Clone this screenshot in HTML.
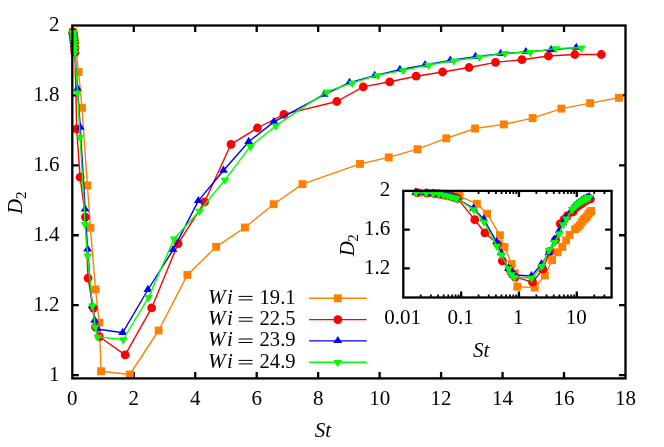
<!DOCTYPE html>
<html><head><meta charset="utf-8"><title>D2 vs St</title>
<style>
html,body{margin:0;padding:0;background:#fff;}
body{width:664px;height:447px;position:relative;overflow:hidden;font-family:"Liberation Serif",serif;}
.tx, .tx text, .tx tspan{font-family:"Liberation Serif",serif;}
</style></head><body>
<svg width="664" height="447" viewBox="0 0 664 447" style="position:absolute;left:0;top:0">
<rect width="664" height="447" fill="#fff"/>
<g><path d="M133.77 378.4v-6.5M133.77 25.5v6.5" stroke="#000" stroke-width="2.3"/><path d="M195.23 378.4v-6.5M195.23 25.5v6.5" stroke="#000" stroke-width="2.3"/><path d="M256.70 378.4v-6.5M256.70 25.5v6.5" stroke="#000" stroke-width="2.3"/><path d="M318.17 378.4v-6.5M318.17 25.5v6.5" stroke="#000" stroke-width="2.3"/><path d="M379.63 378.4v-6.5M379.63 25.5v6.5" stroke="#000" stroke-width="2.3"/><path d="M441.10 378.4v-6.5M441.10 25.5v6.5" stroke="#000" stroke-width="2.3"/><path d="M502.57 378.4v-6.5M502.57 25.5v6.5" stroke="#000" stroke-width="2.3"/><path d="M564.03 378.4v-6.5M564.03 25.5v6.5" stroke="#000" stroke-width="2.3"/><path d="M72.3 375.10h6.5M625.5 375.10h-6.5" stroke="#000" stroke-width="2.3"/><path d="M72.3 305.18h6.5M625.5 305.18h-6.5" stroke="#000" stroke-width="2.3"/><path d="M72.3 235.26h6.5M625.5 235.26h-6.5" stroke="#000" stroke-width="2.3"/><path d="M72.3 165.34h6.5M625.5 165.34h-6.5" stroke="#000" stroke-width="2.3"/><path d="M72.3 95.42h6.5M625.5 95.42h-6.5" stroke="#000" stroke-width="2.3"/><path d="M420.71 297.5v-3M420.71 190.9v3" stroke="#000" stroke-width="1.8"/><path d="M430.89 297.5v-3M430.89 190.9v3" stroke="#000" stroke-width="1.8"/><path d="M438.12 297.5v-3M438.12 190.9v3" stroke="#000" stroke-width="1.8"/><path d="M443.72 297.5v-3M443.72 190.9v3" stroke="#000" stroke-width="1.8"/><path d="M448.30 297.5v-3M448.30 190.9v3" stroke="#000" stroke-width="1.8"/><path d="M452.17 297.5v-3M452.17 190.9v3" stroke="#000" stroke-width="1.8"/><path d="M455.52 297.5v-3M455.52 190.9v3" stroke="#000" stroke-width="1.8"/><path d="M458.48 297.5v-3M458.48 190.9v3" stroke="#000" stroke-width="1.8"/><path d="M461.13 297.5v-6M461.13 190.9v6" stroke="#000" stroke-width="2.3"/><path d="M478.54 297.5v-3M478.54 190.9v3" stroke="#000" stroke-width="1.8"/><path d="M488.72 297.5v-3M488.72 190.9v3" stroke="#000" stroke-width="1.8"/><path d="M495.94 297.5v-3M495.94 190.9v3" stroke="#000" stroke-width="1.8"/><path d="M501.55 297.5v-3M501.55 190.9v3" stroke="#000" stroke-width="1.8"/><path d="M506.13 297.5v-3M506.13 190.9v3" stroke="#000" stroke-width="1.8"/><path d="M510.00 297.5v-3M510.00 190.9v3" stroke="#000" stroke-width="1.8"/><path d="M513.35 297.5v-3M513.35 190.9v3" stroke="#000" stroke-width="1.8"/><path d="M516.31 297.5v-3M516.31 190.9v3" stroke="#000" stroke-width="1.8"/><path d="M518.96 297.5v-6M518.96 190.9v6" stroke="#000" stroke-width="2.3"/><path d="M536.36 297.5v-3M536.36 190.9v3" stroke="#000" stroke-width="1.8"/><path d="M546.55 297.5v-3M546.55 190.9v3" stroke="#000" stroke-width="1.8"/><path d="M553.77 297.5v-3M553.77 190.9v3" stroke="#000" stroke-width="1.8"/><path d="M559.38 297.5v-3M559.38 190.9v3" stroke="#000" stroke-width="1.8"/><path d="M563.95 297.5v-3M563.95 190.9v3" stroke="#000" stroke-width="1.8"/><path d="M567.83 297.5v-3M567.83 190.9v3" stroke="#000" stroke-width="1.8"/><path d="M571.18 297.5v-3M571.18 190.9v3" stroke="#000" stroke-width="1.8"/><path d="M574.14 297.5v-3M574.14 190.9v3" stroke="#000" stroke-width="1.8"/><path d="M576.78 297.5v-6M576.78 190.9v6" stroke="#000" stroke-width="2.3"/><path d="M594.19 297.5v-3M594.19 190.9v3" stroke="#000" stroke-width="1.8"/><path d="M604.38 297.5v-3M604.38 190.9v3" stroke="#000" stroke-width="1.8"/><path d="M403.3 268.42h6.5M611.6 268.42h-6.5" stroke="#000" stroke-width="2.3"/><path d="M403.3 229.66h6.5M611.6 229.66h-6.5" stroke="#000" stroke-width="2.3"/></g>
<g><path d="M72.88 31.79L73.16 32.84L73.45 33.89L73.74 35.29L74.03 37.04L74.31 38.78L74.60 40.53L74.89 42.28L75.18 44.03L78.60 72.00L82.00 107.75L87.40 185.40L90.40 227.75L95.50 289.50L99.30 322.60L101.10 371.20L129.84 374.50L158.61 330.50L187.38 274.90L216.15 246.80L244.92 227.50L273.69 204.20L302.46 184.10L360.00 163.90L388.77 157.40L417.54 149.20L446.31 138.30L475.08 128.50L503.85 124.40L532.62 118.10L561.39 108.60L590.16 103.10L618.93 97.80" fill="none" stroke="#ff8000" stroke-width="1.4" stroke-linejoin="round"/><rect x="68.93" y="27.84" width="7.90" height="7.90" fill="#ff8000"/><rect x="69.21" y="28.89" width="7.90" height="7.90" fill="#ff8000"/><rect x="69.50" y="29.94" width="7.90" height="7.90" fill="#ff8000"/><rect x="69.79" y="31.34" width="7.90" height="7.90" fill="#ff8000"/><rect x="70.08" y="33.09" width="7.90" height="7.90" fill="#ff8000"/><rect x="70.36" y="34.83" width="7.90" height="7.90" fill="#ff8000"/><rect x="70.65" y="36.58" width="7.90" height="7.90" fill="#ff8000"/><rect x="70.94" y="38.33" width="7.90" height="7.90" fill="#ff8000"/><rect x="71.23" y="40.08" width="7.90" height="7.90" fill="#ff8000"/><rect x="74.65" y="68.05" width="7.90" height="7.90" fill="#ff8000"/><rect x="78.05" y="103.80" width="7.90" height="7.90" fill="#ff8000"/><rect x="83.45" y="181.45" width="7.90" height="7.90" fill="#ff8000"/><rect x="86.45" y="223.80" width="7.90" height="7.90" fill="#ff8000"/><rect x="91.55" y="285.55" width="7.90" height="7.90" fill="#ff8000"/><rect x="95.35" y="318.65" width="7.90" height="7.90" fill="#ff8000"/><rect x="97.15" y="367.25" width="7.90" height="7.90" fill="#ff8000"/><rect x="125.89" y="370.55" width="7.90" height="7.90" fill="#ff8000"/><rect x="154.66" y="326.55" width="7.90" height="7.90" fill="#ff8000"/><rect x="183.43" y="270.95" width="7.90" height="7.90" fill="#ff8000"/><rect x="212.20" y="242.85" width="7.90" height="7.90" fill="#ff8000"/><rect x="240.97" y="223.55" width="7.90" height="7.90" fill="#ff8000"/><rect x="269.74" y="200.25" width="7.90" height="7.90" fill="#ff8000"/><rect x="298.51" y="180.15" width="7.90" height="7.90" fill="#ff8000"/><rect x="356.05" y="159.95" width="7.90" height="7.90" fill="#ff8000"/><rect x="384.82" y="153.45" width="7.90" height="7.90" fill="#ff8000"/><rect x="413.59" y="145.25" width="7.90" height="7.90" fill="#ff8000"/><rect x="442.36" y="134.35" width="7.90" height="7.90" fill="#ff8000"/><rect x="471.13" y="124.55" width="7.90" height="7.90" fill="#ff8000"/><rect x="499.90" y="120.45" width="7.90" height="7.90" fill="#ff8000"/><rect x="528.67" y="114.15" width="7.90" height="7.90" fill="#ff8000"/><rect x="557.44" y="104.65" width="7.90" height="7.90" fill="#ff8000"/><rect x="586.21" y="99.15" width="7.90" height="7.90" fill="#ff8000"/><rect x="614.98" y="93.85" width="7.90" height="7.90" fill="#ff8000"/><path d="M72.83 32.14L73.09 33.54L73.36 35.29L73.62 37.74L73.89 40.53L74.15 43.33L74.42 46.48L74.68 49.62L74.94 52.42L76.70 129.00L80.10 177.25L85.40 217.10L88.00 278.10L93.40 308.10L95.50 327.00L99.40 336.70L125.20 354.90L151.65 307.90L178.10 243.60L204.55 202.00L231.00 144.30L257.45 128.00L283.90 114.40L336.80 101.50L363.25 86.90L389.70 81.80L416.15 76.20L442.60 72.00L469.05 67.50L495.50 62.40L521.95 59.70L548.40 56.00L574.85 54.50L601.30 54.50" fill="none" stroke="#ff0000" stroke-width="1.4" stroke-linejoin="round"/><circle cx="72.83" cy="32.14" r="4.4" fill="#ff0000"/><circle cx="73.09" cy="33.54" r="4.4" fill="#ff0000"/><circle cx="73.36" cy="35.29" r="4.4" fill="#ff0000"/><circle cx="73.62" cy="37.74" r="4.4" fill="#ff0000"/><circle cx="73.89" cy="40.53" r="4.4" fill="#ff0000"/><circle cx="74.15" cy="43.33" r="4.4" fill="#ff0000"/><circle cx="74.42" cy="46.48" r="4.4" fill="#ff0000"/><circle cx="74.68" cy="49.62" r="4.4" fill="#ff0000"/><circle cx="74.94" cy="52.42" r="4.4" fill="#ff0000"/><circle cx="76.70" cy="129.00" r="4.4" fill="#ff0000"/><circle cx="80.10" cy="177.25" r="4.4" fill="#ff0000"/><circle cx="85.40" cy="217.10" r="4.4" fill="#ff0000"/><circle cx="88.00" cy="278.10" r="4.4" fill="#ff0000"/><circle cx="93.40" cy="308.10" r="4.4" fill="#ff0000"/><circle cx="95.50" cy="327.00" r="4.4" fill="#ff0000"/><circle cx="99.40" cy="336.70" r="4.4" fill="#ff0000"/><circle cx="125.20" cy="354.90" r="4.4" fill="#ff0000"/><circle cx="151.65" cy="307.90" r="4.4" fill="#ff0000"/><circle cx="178.10" cy="243.60" r="4.4" fill="#ff0000"/><circle cx="204.55" cy="202.00" r="4.4" fill="#ff0000"/><circle cx="231.00" cy="144.30" r="4.4" fill="#ff0000"/><circle cx="257.45" cy="128.00" r="4.4" fill="#ff0000"/><circle cx="283.90" cy="114.40" r="4.4" fill="#ff0000"/><circle cx="336.80" cy="101.50" r="4.4" fill="#ff0000"/><circle cx="363.25" cy="86.90" r="4.4" fill="#ff0000"/><circle cx="389.70" cy="81.80" r="4.4" fill="#ff0000"/><circle cx="416.15" cy="76.20" r="4.4" fill="#ff0000"/><circle cx="442.60" cy="72.00" r="4.4" fill="#ff0000"/><circle cx="469.05" cy="67.50" r="4.4" fill="#ff0000"/><circle cx="495.50" cy="62.40" r="4.4" fill="#ff0000"/><circle cx="521.95" cy="59.70" r="4.4" fill="#ff0000"/><circle cx="548.40" cy="56.00" r="4.4" fill="#ff0000"/><circle cx="574.85" cy="54.50" r="4.4" fill="#ff0000"/><circle cx="601.30" cy="54.50" r="4.4" fill="#ff0000"/><path d="M72.80 31.44L73.06 32.84L73.31 34.59L73.56 36.69L73.81 39.48L74.06 42.28L74.32 45.43L74.57 48.57L74.82 51.72L77.60 88.80L80.30 127.50L85.10 209.40L87.60 249.40L92.00 306.00L94.70 320.50L97.20 329.00L122.70 332.70L147.90 289.75L173.10 249.85L198.30 200.85L223.50 170.55L248.70 141.70L273.90 121.90L324.30 94.60L349.50 82.60L374.70 75.65L399.90 69.80L425.10 65.00L450.30 60.40L475.50 56.70L500.70 53.70L525.90 51.90L551.10 49.90L576.30 47.60" fill="none" stroke="#0000ff" stroke-width="1.4" stroke-linejoin="round"/><path d="M72.80 26.52L68.40 33.64L77.20 33.64Z" fill="#0000ff"/><path d="M73.06 27.91L68.66 35.04L77.46 35.04Z" fill="#0000ff"/><path d="M73.31 29.66L68.91 36.79L77.71 36.79Z" fill="#0000ff"/><path d="M73.56 31.76L69.16 38.89L77.96 38.89Z" fill="#0000ff"/><path d="M73.81 34.56L69.41 41.68L78.21 41.68Z" fill="#0000ff"/><path d="M74.06 37.35L69.66 44.48L78.46 44.48Z" fill="#0000ff"/><path d="M74.32 40.50L69.92 47.63L78.72 47.63Z" fill="#0000ff"/><path d="M74.57 43.65L70.17 50.77L78.97 50.77Z" fill="#0000ff"/><path d="M74.82 46.79L70.42 53.92L79.22 53.92Z" fill="#0000ff"/><path d="M77.60 83.87L73.20 91.00L82.00 91.00Z" fill="#0000ff"/><path d="M80.30 122.57L75.90 129.70L84.70 129.70Z" fill="#0000ff"/><path d="M85.10 204.47L80.70 211.60L89.50 211.60Z" fill="#0000ff"/><path d="M87.60 244.47L83.20 251.60L92.00 251.60Z" fill="#0000ff"/><path d="M92.00 301.07L87.60 308.20L96.40 308.20Z" fill="#0000ff"/><path d="M94.70 315.57L90.30 322.70L99.10 322.70Z" fill="#0000ff"/><path d="M97.20 324.07L92.80 331.20L101.60 331.20Z" fill="#0000ff"/><path d="M122.70 327.77L118.30 334.90L127.10 334.90Z" fill="#0000ff"/><path d="M147.90 284.82L143.50 291.95L152.30 291.95Z" fill="#0000ff"/><path d="M173.10 244.92L168.70 252.05L177.50 252.05Z" fill="#0000ff"/><path d="M198.30 195.92L193.90 203.05L202.70 203.05Z" fill="#0000ff"/><path d="M223.50 165.62L219.10 172.75L227.90 172.75Z" fill="#0000ff"/><path d="M248.70 136.77L244.30 143.90L253.10 143.90Z" fill="#0000ff"/><path d="M273.90 116.97L269.50 124.10L278.30 124.10Z" fill="#0000ff"/><path d="M324.30 89.67L319.90 96.80L328.70 96.80Z" fill="#0000ff"/><path d="M349.50 77.67L345.10 84.80L353.90 84.80Z" fill="#0000ff"/><path d="M374.70 70.72L370.30 77.85L379.10 77.85Z" fill="#0000ff"/><path d="M399.90 64.87L395.50 72.00L404.30 72.00Z" fill="#0000ff"/><path d="M425.10 60.07L420.70 67.20L429.50 67.20Z" fill="#0000ff"/><path d="M450.30 55.47L445.90 62.60L454.70 62.60Z" fill="#0000ff"/><path d="M475.50 51.77L471.10 58.90L479.90 58.90Z" fill="#0000ff"/><path d="M500.70 48.77L496.30 55.90L505.10 55.90Z" fill="#0000ff"/><path d="M525.90 46.97L521.50 54.10L530.30 54.10Z" fill="#0000ff"/><path d="M551.10 44.97L546.70 52.10L555.50 52.10Z" fill="#0000ff"/><path d="M576.30 42.67L571.90 49.80L580.70 49.80Z" fill="#0000ff"/><path d="M72.81 32.14L73.06 33.19L73.32 34.94L73.57 37.39L73.83 40.18L74.08 42.98L74.34 46.13L74.59 49.27L74.84 52.59L77.60 92.60L80.10 137.10L85.10 224.30L87.60 255.70L92.50 305.70L95.20 326.90L97.80 336.90L123.20 339.50L148.65 297.10L174.10 238.70L199.55 211.00L225.00 179.90L250.45 146.20L275.90 125.70L326.80 91.70L352.25 83.00L377.70 75.20L403.15 70.40L428.60 65.00L454.05 60.80L479.50 57.00L504.95 53.20L530.40 52.30L555.85 48.40L581.30 47.70" fill="none" stroke="#00ff00" stroke-width="1.4" stroke-linejoin="round"/><path d="M72.81 37.07L68.41 29.94L77.21 29.94Z" fill="#00ff00"/><path d="M73.06 38.12L68.66 30.99L77.46 30.99Z" fill="#00ff00"/><path d="M73.32 39.87L68.92 32.74L77.72 32.74Z" fill="#00ff00"/><path d="M73.57 42.31L69.17 35.19L77.97 35.19Z" fill="#00ff00"/><path d="M73.83 45.11L69.43 37.98L78.23 37.98Z" fill="#00ff00"/><path d="M74.08 47.91L69.68 40.78L78.48 40.78Z" fill="#00ff00"/><path d="M74.34 51.05L69.94 43.93L78.74 43.93Z" fill="#00ff00"/><path d="M74.59 54.20L70.19 47.07L78.99 47.07Z" fill="#00ff00"/><path d="M74.84 57.52L70.44 50.39L79.25 50.39Z" fill="#00ff00"/><path d="M77.60 97.53L73.20 90.40L82.00 90.40Z" fill="#00ff00"/><path d="M80.10 142.03L75.70 134.90L84.50 134.90Z" fill="#00ff00"/><path d="M85.10 229.23L80.70 222.10L89.50 222.10Z" fill="#00ff00"/><path d="M87.60 260.63L83.20 253.50L92.00 253.50Z" fill="#00ff00"/><path d="M92.50 310.63L88.10 303.50L96.90 303.50Z" fill="#00ff00"/><path d="M95.20 331.83L90.80 324.70L99.60 324.70Z" fill="#00ff00"/><path d="M97.80 341.83L93.40 334.70L102.20 334.70Z" fill="#00ff00"/><path d="M123.20 344.43L118.80 337.30L127.60 337.30Z" fill="#00ff00"/><path d="M148.65 302.03L144.25 294.90L153.05 294.90Z" fill="#00ff00"/><path d="M174.10 243.63L169.70 236.50L178.50 236.50Z" fill="#00ff00"/><path d="M199.55 215.93L195.15 208.80L203.95 208.80Z" fill="#00ff00"/><path d="M225.00 184.83L220.60 177.70L229.40 177.70Z" fill="#00ff00"/><path d="M250.45 151.13L246.05 144.00L254.85 144.00Z" fill="#00ff00"/><path d="M275.90 130.63L271.50 123.50L280.30 123.50Z" fill="#00ff00"/><path d="M326.80 96.63L322.40 89.50L331.20 89.50Z" fill="#00ff00"/><path d="M352.25 87.93L347.85 80.80L356.65 80.80Z" fill="#00ff00"/><path d="M377.70 80.13L373.30 73.00L382.10 73.00Z" fill="#00ff00"/><path d="M403.15 75.33L398.75 68.20L407.55 68.20Z" fill="#00ff00"/><path d="M428.60 69.93L424.20 62.80L433.00 62.80Z" fill="#00ff00"/><path d="M454.05 65.73L449.65 58.60L458.45 58.60Z" fill="#00ff00"/><path d="M479.50 61.93L475.10 54.80L483.90 54.80Z" fill="#00ff00"/><path d="M504.95 58.13L500.55 51.00L509.35 51.00Z" fill="#00ff00"/><path d="M530.40 57.23L526.00 50.10L534.80 50.10Z" fill="#00ff00"/><path d="M555.85 53.33L551.45 46.20L560.25 46.20Z" fill="#00ff00"/><path d="M581.30 52.63L576.90 45.50L585.70 45.50Z" fill="#00ff00"/></g>
<g><path d="M309 298.3H366.7" stroke="#ff8000" stroke-width="1.4"/><rect x="333.85" y="294.35" width="7.90" height="7.90" fill="#ff8000"/><path d="M309 319.6H366.7" stroke="#ff0000" stroke-width="1.4"/><circle cx="337.80" cy="319.60" r="4.4" fill="#ff0000"/><path d="M309 340.9H366.7" stroke="#0000ff" stroke-width="1.4"/><path d="M337.80 335.97L333.40 343.10L342.20 343.10Z" fill="#0000ff"/><path d="M309 362.3H366.7" stroke="#00ff00" stroke-width="1.4"/><path d="M337.80 367.23L333.40 360.10L342.20 360.10Z" fill="#00ff00"/></g>
<g><path d="M419.05 192.64L429.23 192.93L436.46 193.23L442.06 193.61L446.64 194.10L450.51 194.58L453.87 195.07L456.82 195.55L459.47 196.04L476.88 203.79L487.06 213.70L499.89 235.22L504.47 246.96L511.69 264.07L514.65 273.25L517.30 286.72L534.71 287.63L544.89 275.44L552.11 260.03L557.72 252.24L562.30 246.89L566.17 240.43L569.52 234.86L575.13 229.26L577.52 227.46L579.71 225.19L581.72 222.17L583.58 219.45L585.31 218.31L586.93 216.57L588.45 213.93L589.89 212.41L591.25 210.94" fill="none" stroke="#ff8000" stroke-width="1.4" stroke-linejoin="round"/><rect x="415.10" y="188.69" width="7.90" height="7.90" fill="#ff8000"/><rect x="425.28" y="188.98" width="7.90" height="7.90" fill="#ff8000"/><rect x="432.51" y="189.28" width="7.90" height="7.90" fill="#ff8000"/><rect x="438.11" y="189.66" width="7.90" height="7.90" fill="#ff8000"/><rect x="442.69" y="190.15" width="7.90" height="7.90" fill="#ff8000"/><rect x="446.56" y="190.63" width="7.90" height="7.90" fill="#ff8000"/><rect x="449.92" y="191.12" width="7.90" height="7.90" fill="#ff8000"/><rect x="452.87" y="191.60" width="7.90" height="7.90" fill="#ff8000"/><rect x="455.52" y="192.09" width="7.90" height="7.90" fill="#ff8000"/><rect x="472.93" y="199.84" width="7.90" height="7.90" fill="#ff8000"/><rect x="483.11" y="209.75" width="7.90" height="7.90" fill="#ff8000"/><rect x="495.94" y="231.27" width="7.90" height="7.90" fill="#ff8000"/><rect x="500.52" y="243.01" width="7.90" height="7.90" fill="#ff8000"/><rect x="507.74" y="260.12" width="7.90" height="7.90" fill="#ff8000"/><rect x="510.70" y="269.30" width="7.90" height="7.90" fill="#ff8000"/><rect x="513.35" y="282.77" width="7.90" height="7.90" fill="#ff8000"/><rect x="530.76" y="283.68" width="7.90" height="7.90" fill="#ff8000"/><rect x="540.94" y="271.49" width="7.90" height="7.90" fill="#ff8000"/><rect x="548.16" y="256.08" width="7.90" height="7.90" fill="#ff8000"/><rect x="553.77" y="248.29" width="7.90" height="7.90" fill="#ff8000"/><rect x="558.35" y="242.94" width="7.90" height="7.90" fill="#ff8000"/><rect x="562.22" y="236.48" width="7.90" height="7.90" fill="#ff8000"/><rect x="565.57" y="230.91" width="7.90" height="7.90" fill="#ff8000"/><rect x="571.18" y="225.31" width="7.90" height="7.90" fill="#ff8000"/><rect x="573.57" y="223.51" width="7.90" height="7.90" fill="#ff8000"/><rect x="575.76" y="221.24" width="7.90" height="7.90" fill="#ff8000"/><rect x="577.77" y="218.22" width="7.90" height="7.90" fill="#ff8000"/><rect x="579.63" y="215.50" width="7.90" height="7.90" fill="#ff8000"/><rect x="581.36" y="214.36" width="7.90" height="7.90" fill="#ff8000"/><rect x="582.98" y="212.62" width="7.90" height="7.90" fill="#ff8000"/><rect x="584.50" y="209.98" width="7.90" height="7.90" fill="#ff8000"/><rect x="585.94" y="208.46" width="7.90" height="7.90" fill="#ff8000"/><rect x="587.30" y="206.99" width="7.90" height="7.90" fill="#ff8000"/><path d="M416.94 192.74L427.12 193.13L434.35 193.61L439.95 194.29L444.53 195.07L448.40 195.84L451.75 196.71L454.71 197.59L457.36 198.36L474.77 219.59L484.95 232.96L497.78 244.01L502.36 260.91L509.58 269.23L512.54 274.47L515.19 277.16L532.59 282.20L542.78 269.17L550.00 251.35L555.61 239.82L560.19 223.83L564.06 219.31L567.41 215.54L573.01 211.97L575.41 207.92L577.59 206.50L579.60 204.95L581.46 203.79L583.20 202.54L584.82 201.13L586.34 200.38L587.78 199.35L589.13 198.94L590.42 198.94" fill="none" stroke="#ff0000" stroke-width="1.4" stroke-linejoin="round"/><circle cx="416.94" cy="192.74" r="4.4" fill="#ff0000"/><circle cx="427.12" cy="193.13" r="4.4" fill="#ff0000"/><circle cx="434.35" cy="193.61" r="4.4" fill="#ff0000"/><circle cx="439.95" cy="194.29" r="4.4" fill="#ff0000"/><circle cx="444.53" cy="195.07" r="4.4" fill="#ff0000"/><circle cx="448.40" cy="195.84" r="4.4" fill="#ff0000"/><circle cx="451.75" cy="196.71" r="4.4" fill="#ff0000"/><circle cx="454.71" cy="197.59" r="4.4" fill="#ff0000"/><circle cx="457.36" cy="198.36" r="4.4" fill="#ff0000"/><circle cx="474.77" cy="219.59" r="4.4" fill="#ff0000"/><circle cx="484.95" cy="232.96" r="4.4" fill="#ff0000"/><circle cx="497.78" cy="244.01" r="4.4" fill="#ff0000"/><circle cx="502.36" cy="260.91" r="4.4" fill="#ff0000"/><circle cx="509.58" cy="269.23" r="4.4" fill="#ff0000"/><circle cx="512.54" cy="274.47" r="4.4" fill="#ff0000"/><circle cx="515.19" cy="277.16" r="4.4" fill="#ff0000"/><circle cx="532.59" cy="282.20" r="4.4" fill="#ff0000"/><circle cx="542.78" cy="269.17" r="4.4" fill="#ff0000"/><circle cx="550.00" cy="251.35" r="4.4" fill="#ff0000"/><circle cx="555.61" cy="239.82" r="4.4" fill="#ff0000"/><circle cx="560.19" cy="223.83" r="4.4" fill="#ff0000"/><circle cx="564.06" cy="219.31" r="4.4" fill="#ff0000"/><circle cx="567.41" cy="215.54" r="4.4" fill="#ff0000"/><circle cx="573.01" cy="211.97" r="4.4" fill="#ff0000"/><circle cx="575.41" cy="207.92" r="4.4" fill="#ff0000"/><circle cx="577.59" cy="206.50" r="4.4" fill="#ff0000"/><circle cx="579.60" cy="204.95" r="4.4" fill="#ff0000"/><circle cx="581.46" cy="203.79" r="4.4" fill="#ff0000"/><circle cx="583.20" cy="202.54" r="4.4" fill="#ff0000"/><circle cx="584.82" cy="201.13" r="4.4" fill="#ff0000"/><circle cx="586.34" cy="200.38" r="4.4" fill="#ff0000"/><circle cx="587.78" cy="199.35" r="4.4" fill="#ff0000"/><circle cx="589.13" cy="198.94" r="4.4" fill="#ff0000"/><circle cx="590.42" cy="198.94" r="4.4" fill="#ff0000"/><path d="M415.72 192.55L425.91 192.93L433.13 193.42L438.73 194.00L443.31 194.78L447.19 195.55L450.54 196.42L453.50 197.30L456.14 198.17L473.55 208.45L483.73 219.17L496.56 241.87L501.14 252.96L508.37 268.65L511.32 272.67L513.97 275.02L531.38 276.05L541.56 264.14L548.79 253.08L554.39 239.50L558.97 231.10L562.84 223.11L566.19 217.62L571.80 210.05L574.19 206.73L576.38 204.80L578.39 203.18L580.25 201.85L581.98 200.57L583.60 199.55L585.13 198.72L586.56 198.22L587.92 197.66L589.21 197.03" fill="none" stroke="#0000ff" stroke-width="1.4" stroke-linejoin="round"/><path d="M415.72 187.62L411.32 194.75L420.12 194.75Z" fill="#0000ff"/><path d="M425.91 188.01L421.51 195.13L430.31 195.13Z" fill="#0000ff"/><path d="M433.13 188.49L428.73 195.62L437.53 195.62Z" fill="#0000ff"/><path d="M438.73 189.07L434.33 196.20L443.13 196.20Z" fill="#0000ff"/><path d="M443.31 189.85L438.91 196.98L447.71 196.98Z" fill="#0000ff"/><path d="M447.19 190.62L442.79 197.75L451.59 197.75Z" fill="#0000ff"/><path d="M450.54 191.50L446.14 198.62L454.94 198.62Z" fill="#0000ff"/><path d="M453.50 192.37L449.10 199.50L457.90 199.50Z" fill="#0000ff"/><path d="M456.14 193.24L451.74 200.37L460.54 200.37Z" fill="#0000ff"/><path d="M473.55 203.52L469.15 210.65L477.95 210.65Z" fill="#0000ff"/><path d="M483.73 214.24L479.33 221.37L488.13 221.37Z" fill="#0000ff"/><path d="M496.56 236.94L492.16 244.07L500.96 244.07Z" fill="#0000ff"/><path d="M501.14 248.03L496.74 255.16L505.54 255.16Z" fill="#0000ff"/><path d="M508.37 263.72L503.97 270.85L512.77 270.85Z" fill="#0000ff"/><path d="M511.32 267.74L506.92 274.87L515.72 274.87Z" fill="#0000ff"/><path d="M513.97 270.09L509.57 277.22L518.37 277.22Z" fill="#0000ff"/><path d="M531.38 271.12L526.98 278.25L535.78 278.25Z" fill="#0000ff"/><path d="M541.56 259.22L537.16 266.34L545.96 266.34Z" fill="#0000ff"/><path d="M548.79 248.16L544.39 255.28L553.19 255.28Z" fill="#0000ff"/><path d="M554.39 234.57L549.99 241.70L558.79 241.70Z" fill="#0000ff"/><path d="M558.97 226.18L554.57 233.30L563.37 233.30Z" fill="#0000ff"/><path d="M562.84 218.18L558.44 225.31L567.24 225.31Z" fill="#0000ff"/><path d="M566.19 212.69L561.79 219.82L570.59 219.82Z" fill="#0000ff"/><path d="M571.80 205.12L567.40 212.25L576.20 212.25Z" fill="#0000ff"/><path d="M574.19 201.80L569.79 208.93L578.59 208.93Z" fill="#0000ff"/><path d="M576.38 199.87L571.98 207.00L580.78 207.00Z" fill="#0000ff"/><path d="M578.39 198.25L573.99 205.38L582.79 205.38Z" fill="#0000ff"/><path d="M580.25 196.92L575.85 204.05L584.65 204.05Z" fill="#0000ff"/><path d="M581.98 195.65L577.58 202.77L586.38 202.77Z" fill="#0000ff"/><path d="M583.60 194.62L579.20 201.75L588.00 201.75Z" fill="#0000ff"/><path d="M585.13 193.79L580.73 200.92L589.53 200.92Z" fill="#0000ff"/><path d="M586.56 193.29L582.16 200.42L590.96 200.42Z" fill="#0000ff"/><path d="M587.92 192.74L583.52 199.86L592.32 199.86Z" fill="#0000ff"/><path d="M589.21 192.10L584.81 199.23L593.61 199.23Z" fill="#0000ff"/><path d="M415.97 192.74L426.15 193.03L433.38 193.52L438.98 194.19L443.56 194.97L447.43 195.75L450.79 196.62L453.74 197.49L456.39 198.41L473.80 209.50L483.98 221.83L496.81 246.00L501.39 254.71L508.61 268.56L511.57 274.44L514.22 277.21L531.63 277.93L541.81 266.18L549.03 249.99L554.64 242.32L559.22 233.70L563.09 224.35L566.44 218.67L572.05 209.25L574.44 206.84L576.63 204.68L578.64 203.35L580.50 201.85L582.23 200.68L583.85 199.63L585.37 198.58L586.81 198.33L588.17 197.25L589.45 197.05" fill="none" stroke="#00ff00" stroke-width="1.4" stroke-linejoin="round"/><path d="M415.97 197.67L411.57 190.54L420.37 190.54Z" fill="#00ff00"/><path d="M426.15 197.96L421.75 190.83L430.55 190.83Z" fill="#00ff00"/><path d="M433.38 198.44L428.98 191.32L437.78 191.32Z" fill="#00ff00"/><path d="M438.98 199.12L434.58 191.99L443.38 191.99Z" fill="#00ff00"/><path d="M443.56 199.90L439.16 192.77L447.96 192.77Z" fill="#00ff00"/><path d="M447.43 200.67L443.03 193.55L451.83 193.55Z" fill="#00ff00"/><path d="M450.79 201.55L446.39 194.42L455.19 194.42Z" fill="#00ff00"/><path d="M453.74 202.42L449.34 195.29L458.14 195.29Z" fill="#00ff00"/><path d="M456.39 203.34L451.99 196.21L460.79 196.21Z" fill="#00ff00"/><path d="M473.80 214.43L469.40 207.30L478.20 207.30Z" fill="#00ff00"/><path d="M483.98 226.76L479.58 219.63L488.38 219.63Z" fill="#00ff00"/><path d="M496.81 250.93L492.41 243.80L501.21 243.80Z" fill="#00ff00"/><path d="M501.39 259.63L496.99 252.51L505.79 252.51Z" fill="#00ff00"/><path d="M508.61 273.49L504.21 266.36L513.01 266.36Z" fill="#00ff00"/><path d="M511.57 279.37L507.17 272.24L515.97 272.24Z" fill="#00ff00"/><path d="M514.22 282.14L509.82 275.01L518.62 275.01Z" fill="#00ff00"/><path d="M531.63 282.86L527.23 275.73L536.03 275.73Z" fill="#00ff00"/><path d="M541.81 271.11L537.41 263.98L546.21 263.98Z" fill="#00ff00"/><path d="M549.03 254.92L544.63 247.79L553.43 247.79Z" fill="#00ff00"/><path d="M554.64 247.24L550.24 240.12L559.04 240.12Z" fill="#00ff00"/><path d="M559.22 238.62L554.82 231.50L563.62 231.50Z" fill="#00ff00"/><path d="M563.09 229.28L558.69 222.15L567.49 222.15Z" fill="#00ff00"/><path d="M566.44 223.60L562.04 216.47L570.84 216.47Z" fill="#00ff00"/><path d="M572.05 214.18L567.65 207.05L576.45 207.05Z" fill="#00ff00"/><path d="M574.44 211.77L570.04 204.64L578.84 204.64Z" fill="#00ff00"/><path d="M576.63 209.60L572.23 202.48L581.03 202.48Z" fill="#00ff00"/><path d="M578.64 208.27L574.24 201.15L583.04 201.15Z" fill="#00ff00"/><path d="M580.50 206.78L576.10 199.65L584.90 199.65Z" fill="#00ff00"/><path d="M582.23 205.61L577.83 198.48L586.63 198.48Z" fill="#00ff00"/><path d="M583.85 204.56L579.45 197.43L588.25 197.43Z" fill="#00ff00"/><path d="M585.37 203.51L580.97 196.38L589.77 196.38Z" fill="#00ff00"/><path d="M586.81 203.26L582.41 196.13L591.21 196.13Z" fill="#00ff00"/><path d="M588.17 202.18L583.77 195.05L592.57 195.05Z" fill="#00ff00"/><path d="M589.45 201.98L585.05 194.85L593.85 194.85Z" fill="#00ff00"/></g>
<g><rect x="72.3" y="25.5" width="553.2" height="352.9" fill="none" stroke="#000" stroke-width="2.3"/><rect x="403.3" y="190.9" width="208.3" height="106.6" fill="none" stroke="#000" stroke-width="2.3"/></g>
<g class="tx" font-size="21" fill="#000" style="filter:grayscale(1)"><text x="72.30" y="405" text-anchor="middle">0</text><text x="133.77" y="405" text-anchor="middle">2</text><text x="195.23" y="405" text-anchor="middle">4</text><text x="256.70" y="405" text-anchor="middle">6</text><text x="318.17" y="405" text-anchor="middle">8</text><text x="379.63" y="405" text-anchor="middle">10</text><text x="441.10" y="405" text-anchor="middle">12</text><text x="502.57" y="405" text-anchor="middle">14</text><text x="564.03" y="405" text-anchor="middle">16</text><text x="625.50" y="405" text-anchor="middle">18</text><text x="59.5" y="380.50" text-anchor="end">1</text><text x="59.5" y="310.58" text-anchor="end">1.2</text><text x="59.5" y="240.66" text-anchor="end">1.4</text><text x="59.5" y="170.74" text-anchor="end">1.6</text><text x="59.5" y="100.82" text-anchor="end">1.8</text><text x="59.5" y="30.90" text-anchor="end">2</text><text x="402.70" y="324.4" text-anchor="middle">0.01</text><text x="460.53" y="324.4" text-anchor="middle">0.1</text><text x="518.36" y="324.4" text-anchor="middle">1</text><text x="576.18" y="324.4" text-anchor="middle">10</text><text x="390.2" y="273.82" text-anchor="end">1.2</text><text x="390.2" y="235.06" text-anchor="end">1.6</text><text x="390.2" y="196.30" text-anchor="end">2</text><text x="322.8" y="436.9" text-anchor="middle" font-style="italic">St</text><text x="481.2" y="357.1" text-anchor="middle" font-style="italic">St</text><text transform="translate(22.1,214.1) rotate(-90)" font-style="italic" font-size="20.8">D</text><text transform="translate(26.2,198.9) rotate(-90)" font-size="15">2</text><text transform="translate(354,256.2) rotate(-90)" font-style="italic" font-size="20.8">D</text><text transform="translate(358.3,241.8) rotate(-90)" font-size="15">2</text><text x="208.0" y="303.70" font-style="italic" textLength="17.6" lengthAdjust="spacingAndGlyphs">W</text><text x="227.0" y="303.70" font-style="italic">i</text><path d="M238.6 296.40h14M238.6 299.90h14" stroke="#000" stroke-width="1.0"/><text x="295.6" y="303.70" text-anchor="end" font-size="20.6">19.1</text><text x="208.0" y="325.00" font-style="italic" textLength="17.6" lengthAdjust="spacingAndGlyphs">W</text><text x="227.0" y="325.00" font-style="italic">i</text><path d="M238.6 317.70h14M238.6 321.20h14" stroke="#000" stroke-width="1.0"/><text x="295.6" y="325.00" text-anchor="end" font-size="20.6">22.5</text><text x="208.0" y="346.30" font-style="italic" textLength="17.6" lengthAdjust="spacingAndGlyphs">W</text><text x="227.0" y="346.30" font-style="italic">i</text><path d="M238.6 339.00h14M238.6 342.50h14" stroke="#000" stroke-width="1.0"/><text x="295.6" y="346.30" text-anchor="end" font-size="20.6">23.9</text><text x="208.0" y="367.70" font-style="italic" textLength="17.6" lengthAdjust="spacingAndGlyphs">W</text><text x="227.0" y="367.70" font-style="italic">i</text><path d="M238.6 360.40h14M238.6 363.90h14" stroke="#000" stroke-width="1.0"/><text x="295.6" y="367.70" text-anchor="end" font-size="20.6">24.9</text></g>
</svg>
</body></html>
